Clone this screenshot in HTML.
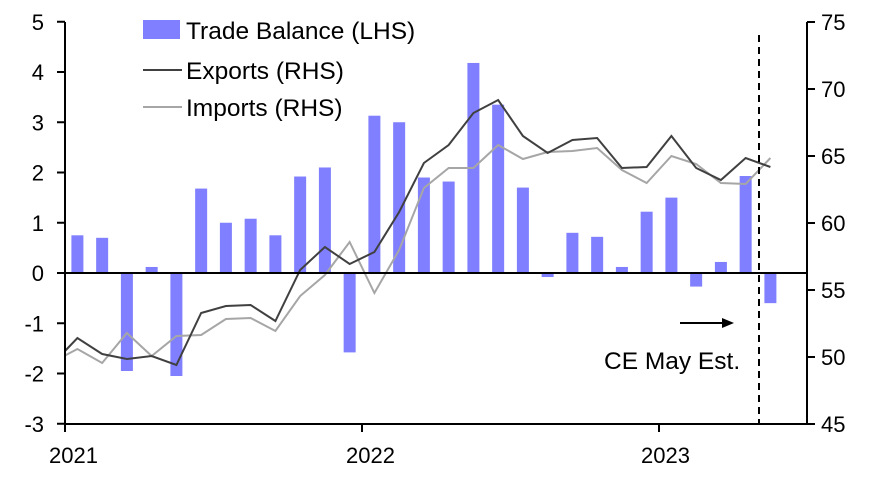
<!DOCTYPE html>
<html><head><style>body{margin:0;background:#fff}svg{display:block;font-family:"Liberation Sans",sans-serif}</style></head><body>
<svg width="872" height="483" viewBox="0 0 872 483">
<defs><clipPath id="c"><rect x="65" y="20" width="742" height="404"/></clipPath></defs>
<g fill="#7f7fff" id="bars"></g>
<g clip-path="url(#c)">
<polyline id="imp" fill="none" stroke="#a6a6a6" stroke-width="2"/>
<polyline id="exp" fill="none" stroke="#404040" stroke-width="2"/>
</g>
<line x1="65" y1="273" x2="807" y2="273" stroke="#000" stroke-width="2"/>
<line x1="65" y1="22" x2="65" y2="425" stroke="#000" stroke-width="2"/>
<line x1="807" y1="22" x2="807" y2="425" stroke="#000" stroke-width="2"/>
<line x1="64" y1="424" x2="808" y2="424" stroke="#000" stroke-width="2"/>
<line x1="759" y1="35" x2="759" y2="424" stroke="#000" stroke-width="2" stroke-dasharray="7,5"/>
<g id="ticks" stroke="#000" stroke-width="2"></g>
<g font-size="22" fill="#000" id="lbl"></g>
<g font-size="22">
<text x="49" y="463">2021</text><text x="346" y="463">2022</text><text x="641" y="463">2023</text>
</g>
<rect x="143" y="20" width="37" height="19" fill="#7f7fff"/>
<text x="186" y="39" font-size="24.5">Trade Balance (LHS)</text>
<line x1="143" y1="70" x2="182" y2="70" stroke="#404040" stroke-width="2"/>
<text x="186" y="79" font-size="24.5">Exports (RHS)</text>
<line x1="143" y1="107" x2="182" y2="107" stroke="#a6a6a6" stroke-width="2"/>
<text x="186" y="116" font-size="24.5">Imports (RHS)</text>
<line x1="680" y1="323" x2="724" y2="323" stroke="#000" stroke-width="2"/>
<polygon points="734,323 722,318 722,328" fill="#000"/>
<text x="604" y="369" font-size="24.5">CE May Est.</text>
</svg>
<script>
var ns="http://www.w3.org/2000/svg";
function el(t,a,p){var e=document.createElementNS(ns,t);for(var k in a)e.setAttribute(k,a[k]);document.getElementById(p).appendChild(e);return e;}
var bv=[0.75,0.7,-1.95,0.12,-2.05,1.68,1.0,1.08,0.75,1.92,2.1,-1.58,3.13,3.0,1.9,1.82,4.18,3.35,1.7,-0.08,0.8,0.72,0.12,1.22,1.5,-0.27,0.22,1.93,-0.6];
var ex=[338,354,359,356,365,313,306,305,321,270,247,264,252,212,163,145,113,100,136,153,140,138,168,167,136,168,180,158,167];
var im=[349,363,333,356,336,335,319,318,331,296,275,242,293,250,188,168,168,145,159,152,151,148,170,183,156,164,183,184,158];
var pe="52.6,364 ",pi="52.6,362 ";
for(var i=0;i<29;i++){var cx=77.4+24.75*i;var h=bv[i]*50.25;
el("rect",{x:cx-6,y:h>0?273-h:273,width:12,height:Math.abs(h)},"bars");
pe+=cx+","+ex[i]+" ";pi+=cx+","+im[i]+" ";}
document.getElementById("exp").setAttribute("points",pe);
document.getElementById("imp").setAttribute("points",pi);
for(var v=-3;v<=5;v++){var y=273-v*50.25;el("line",{x1:57,y1:y,x2:65,y2:y},"ticks");
var t=el("text",{x:44,y:y+8,"text-anchor":"end"},"lbl");t.textContent=v;}
for(var r=45;r<=75;r+=5){var y=22+(75-r)*13.4;el("line",{x1:807,y1:y,x2:815,y2:y},"ticks");
var t=el("text",{x:821,y:y+8},"lbl");t.textContent=r;}
[65,362,659].forEach(function(x){el("line",{x1:x,y1:424,x2:x,y2:432},"ticks");});
</script>
</body></html>
